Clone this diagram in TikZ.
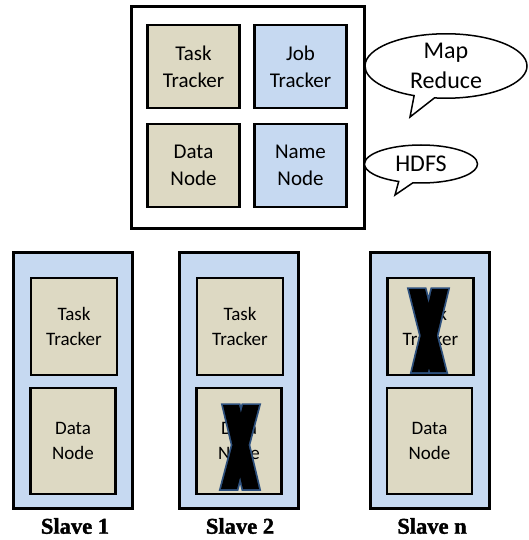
\documentclass[tikz,border=0pt]{standalone}
\usepackage{fontspec}
\setmainfont{Carlito}
\newfontfamily\captionfont[FakeBold=1.5]{Liberation Serif Bold}
\usetikzlibrary{shapes.callouts}
\definecolor{tanfill}{RGB}{221,217,195}
\definecolor{bluefill}{RGB}{198,217,241}
\definecolor{crossedge}{RGB}{45,80,125}

\begin{document}
\begin{tikzpicture}[x=1pt,y=-1pt,
  frame/.style={draw=black, line width=3pt, inner sep=0pt},
  unit/.style={draw=black, line width=2.5pt, inner sep=0pt, align=center},
  bigunit/.style={unit, minimum width=92pt, minimum height=83pt,
    font=\fontsize{21}{27}\selectfont},
  taskbox/.style={unit, fill=tanfill, minimum width=86pt, minimum height=97pt,
    font=\fontsize{19}{25}\selectfont},
  databox/.style={unit, fill=tanfill, minimum width=85pt, minimum height=106pt,
    font=\fontsize{19}{25}\selectfont},
  slavebox/.style={frame, fill=bluefill, minimum width=119pt, minimum height=256pt},
  bubble/.style={ellipse callout, draw=black, line width=1.5pt, fill=white,
    inner sep=0pt, align=center, font=\fontsize{24}{30}\selectfont},
  caption/.style={font=\captionfont\fontsize{22.5}{25}\selectfont},
  crossline/.style={draw=crossedge, line width=3.5pt, line join=miter},
]
\useasboundingbox (0,0) rectangle (528,540);

% master machine
\node[frame, fill=white, minimum width=233pt, minimum height=221pt] (master) at (247.5,117.5) {};
\node[bigunit, fill=tanfill]  (mtask) at (193.5,66.5)  {Task\\Tracker};
\node[bigunit, fill=bluefill] (mjob)  at (300.5,66.5)  {Job\\Tracker};
\node[bigunit, fill=tanfill]  (mdata) at (193.5,165.5) {Data\\Node};
\node[bigunit, fill=bluefill] (mname) at (300.5,165.5) {Name\\Node};

% speech bubbles
\coordinate (mrtip) at (410,117);
\coordinate (hdtip) at (395,195);
\node[bubble, minimum width=162pt, minimum height=62pt,
  callout absolute pointer={(mrtip)}] (mapreduce) at (446,66) {Map\\Reduce};
\node[bubble, minimum width=113pt, minimum height=38pt,
  callout absolute pointer={(hdtip)}] (hdfs) at (421,164) {HDFS};

% slave machines
\foreach \id/\cx in {s1/73, s2/239, sn/429.5} {
  \node[slavebox] (\id) at (\cx,380) {};
  \node[taskbox]  (\id task) at (\cx+1,326.5) {Task\\Tracker};
  \node[databox]  (\id data) at (\cx,441) {Data\\Node};
}

% failure marks
\foreach \ax/\bx/\cx/\dx/\top/\bot in {231/251/251/229/405/489, 417/438/440/420/289/372} {
  \path[crossline]
    (\ax-8,\top) -- (\ax+8,\top) -- (\bx+8,\bot) -- (\bx-8,\bot) -- cycle
    (\cx-8,\top) -- (\cx+8,\top) -- (\dx+8,\bot) -- (\dx-8,\bot) -- cycle;
  \fill[black]
    (\ax-8,\top) -- (\ax+8,\top) -- (\bx+8,\bot) -- (\bx-8,\bot) -- cycle
    (\cx-8,\top) -- (\cx+8,\top) -- (\dx+8,\bot) -- (\dx-8,\bot) -- cycle;
}

% captions
\node[caption] (c1) at (75,526)  {Slave 1};
\node[caption] (c2) at (240,526) {Slave 2};
\node[caption] (cn) at (432,526) {Slave n};
\end{tikzpicture}
\end{document}
